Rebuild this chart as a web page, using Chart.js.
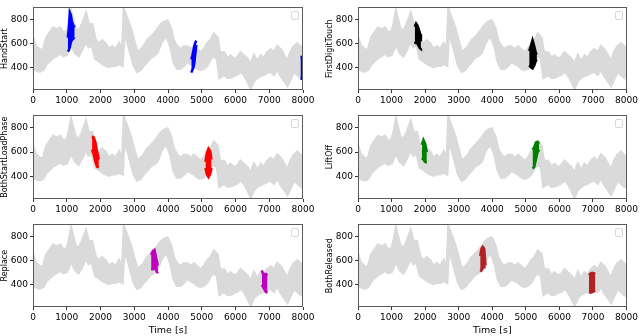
<!DOCTYPE html>
<html><head><meta charset="utf-8">
<script src="https://cdn.jsdelivr.net/npm/chart.js@4/dist/chart.umd.min.js"></script>
<style>
html,body{margin:0;padding:0;background:#fff;}
#wrap{position:relative;width:640px;height:336px;overflow:hidden;background:#fff;}
canvas{position:absolute;}
</style></head><body><div id="wrap">
<canvas id="c0"></canvas><canvas id="c1"></canvas>
<canvas id="c2"></canvas><canvas id="c3"></canvas>
<canvas id="c4"></canvas><canvas id="c5"></canvas>
</div>
<script>
// ---- shared background signal (envelope of the gray scatter) ----
const bandTime = [0,50,100,200,300,400,500,600,700,800,900,1000,1060,1130,1250,1350,1450,1570,1650,1750,1850,1950,2050,2150,2250,2350,2450,2550,2650,2700,2790,2890,2990,3090,3190,3280,3380,3480,3580,3680,3780,3880,3980,4080,4170,4270,4370,4470,4570,4670,4770,4870,4960,5060,5160,5260,5360,5460,5530,5660,5760,5850,5950,6050,6150,6250,6350,6450,6550,6650,6750,6850,6940,7040,7140,7240,7340,7440,7540,7630,7730,7830,7930,8000];
const bandHigh = [650,600,575,550,545,650,690,730,715,730,690,700,755,860,730,700,755,845,755,760,630,600,625,600,550,575,550,600,540,875,805,730,625,525,550,575,625,650,680,715,755,780,790,730,625,575,550,575,575,550,575,550,525,550,600,625,680,650,525,525,475,500,475,485,525,500,475,425,500,450,500,475,525,550,525,575,550,500,450,525,575,600,575,475];
const bandLow  = [420,390,380,370,385,435,460,485,500,520,500,510,550,600,525,500,550,625,575,590,475,460,435,420,410,420,420,435,420,700,625,525,420,370,385,420,450,485,500,525,600,650,650,575,450,395,395,420,450,435,420,395,385,395,420,475,500,475,320,345,320,320,335,345,370,345,295,235,295,320,335,345,360,370,345,395,335,295,255,310,370,345,320,310];

// ---- highlighted event segments (time, upper, lower) ----
const handStartTime = [[1030,1060,1090,1120,1150,1180,1210,1235],[4690,4720,4750,4780,4810,4840],[7925,7960,8000]];
const handStartHigh = [[650,720,860,840,790,760,745,735],[470,500,540,580,610,625],[490,490,490]];
const handStartLow  = [[535,545,570,610,630,640,645,650],[360,380,400,440,520,590],[310,310,315]];

const firstDigitTouchTime = [[1690,1730,1770,1810,1850,1875],[5100,5150,5200,5250,5300,5330]];
const firstDigitTouchHigh = [[740,768,750,720,680,620],[540,580,630,580,520,510]];
const firstDigitTouchLow  = [[600,615,600,580,560,555],[420,405,395,420,460,470]];

const bothStartLoadTime = [[1750,1800,1850,1900,1950],[5110,5150,5200,5250,5290]];
const bothStartLoadHigh = [[730,720,680,600,540],[520,590,630,610,540]];
const bothStartLoadLow  = [[620,580,520,480,475],[470,420,395,420,470]];

const liftOffTime = [[1900,1950,2000,2050],[5200,5250,5300,5350,5400]];
const liftOffHigh = [[660,700,670,600],[620,640,680,685,670]];
const liftOffLow  = [[550,540,520,515],[465,480,540,600,620]];

const replaceTime = [[3500,3550,3600,3650,3700],[6780,6820,6860,6900,6950]];
const replaceHigh = [[650,680,690,620,560],[520,490,490,490,480]];
const replaceLow  = [[530,530,540,520,495],[400,380,360,340,335]];

const bothReleasedTime = [[3640,3680,3720,3760,3800],[6880,6930,6980,7030,7070]];
const bothReleasedHigh = [[640,700,715,700,560],[480,495,500,495,490]];
const bothReleasedLow  = [[510,520,540,545,545],[340,335,340,345,350]];

const xTicks = [0,1000,2000,3000,4000,5000,6000,7000,8000];
const yTicks = [400,600,800];

const panels = [
  {id:'c0', name:'HandStart', color:'#0000ff', t:handStartTime, hi:handStartHigh, lo:handStartLow},
  {id:'c1', name:'FirstDigitTouch', color:'#000000', t:firstDigitTouchTime, hi:firstDigitTouchHigh, lo:firstDigitTouchLow},
  {id:'c2', name:'BothStartLoadPhase', color:'#ff0000', t:bothStartLoadTime, hi:bothStartLoadHigh, lo:bothStartLoadLow},
  {id:'c3', name:'LiftOff', color:'#008000', t:liftOffTime, hi:liftOffHigh, lo:liftOffLow},
  {id:'c4', name:'Replace', color:'#bf00bf', t:replaceTime, hi:replaceHigh, lo:replaceLow},
  {id:'c5', name:'BothReleased', color:'#b22222', t:bothReleasedTime, hi:bothReleasedHigh, lo:bothReleasedLow}
];

const FONT = 'DejaVu Sans';
const GRAY = '#dadada';

const framePlugin = {
  id:'frame',
  afterDraw(chart){
    const {left,top,right,bottom} = chart.chartArea;
    const ctx = chart.ctx;
    ctx.save();
    ctx.strokeStyle = '#5a5a5a';
    ctx.lineWidth = 1;
    ctx.strokeRect(Math.round(left)+0.5, Math.round(top)+0.5, Math.round(right-left)-1, Math.round(bottom-top)-1);
    // empty legend box
    ctx.strokeStyle = '#d6d6d6';
    ctx.beginPath();
    ctx.roundRect(Math.round(right)-11.5, Math.round(top)+4.5, 7, 8, 1.5);
    ctx.stroke();
    ctx.restore();
  }
};

function pts(t, v){ return t.map((x,i)=>({x:x, y:v[i]})); }

panels.forEach((p, k) => {
  const col = k % 2, row = Math.floor(k / 2);
  const isBottom = row === 2;
  const canvas = document.getElementById(p.id);
  const cw = 320;
  const tops = [0,108,217], heights = [109,110,119];
  canvas.width = cw; canvas.height = heights[row];
  canvas.style.left = (col*320)+'px'; canvas.style.top = tops[row]+'px';
  canvas.style.width = cw+'px'; canvas.style.height = heights[row]+'px';
  const yAxisW = col === 0 ? 33 : 38;
  const padRight = col === 0 ? 17 : 13;

  const datasets = [];
  datasets.push({data:pts(bandTime,bandLow), borderColor:GRAY, backgroundColor:GRAY, borderWidth:3, pointRadius:0, fill:false, order:5, tension:0});
  datasets.push({data:pts(bandTime,bandHigh), borderColor:GRAY, backgroundColor:GRAY, borderWidth:3, pointRadius:0, fill:'-1', order:5, tension:0});
  p.t.forEach((seg, j) => {
    datasets.push({data:pts(seg,p.lo[j]), borderColor:p.color, backgroundColor:p.color, borderWidth:2.5, pointRadius:0, fill:false, order:1, tension:0});
    datasets.push({data:pts(seg,p.hi[j]), borderColor:p.color, backgroundColor:p.color, borderWidth:2.5, pointRadius:0, fill:'-1', order:1, tension:0});
  });

  new Chart(canvas, {
    type:'line',
    data:{datasets},
    options:{
      responsive:false, animation:false, devicePixelRatio:1,
      layout:{padding:{top:1, right:padRight, left:0, bottom:0}},
      plugins:{legend:{display:false}, tooltip:{enabled:false}},
      scales:{
        x:{type:'linear', min:0, max:8000,
          afterBuildTicks: s => { s.ticks = xTicks.map(v=>({value:v})); },
          afterFit: s => { s.height = isBottom ? 29 : 19; },
          ticks:{font:{family:FONT,size:9}, color:'#000', padding:2, maxRotation:0, autoSkip:false, callback: v => String(v)},
          grid:{drawOnChartArea:false, drawTicks:true, tickLength:3, color:'#333'},
          border:{display:false},
          title:{display:isBottom, text:'Time [s]', font:{family:FONT,size:9.5}, color:'#000', padding:{top:0,bottom:0}}
        },
        y:{type:'linear', min:216, max:901,
          afterBuildTicks: s => { s.ticks = yTicks.map(v=>({value:v})); },
          afterFit: s => { s.width = yAxisW; },
          ticks:{font:{family:FONT,size:9}, color:'#000', padding:2, callback: v => String(v)},
          grid:{drawOnChartArea:false, drawTicks:true, tickLength:3, color:'#333'},
          border:{display:false},
          title:{display:true, text:p.name, font:{family:FONT,size:8}, color:'#000', padding:{top: col===0 ? 0 : 5, bottom:0}}
        }
      }
    },
    plugins:[framePlugin]
  });
});
</script>
</body></html>
